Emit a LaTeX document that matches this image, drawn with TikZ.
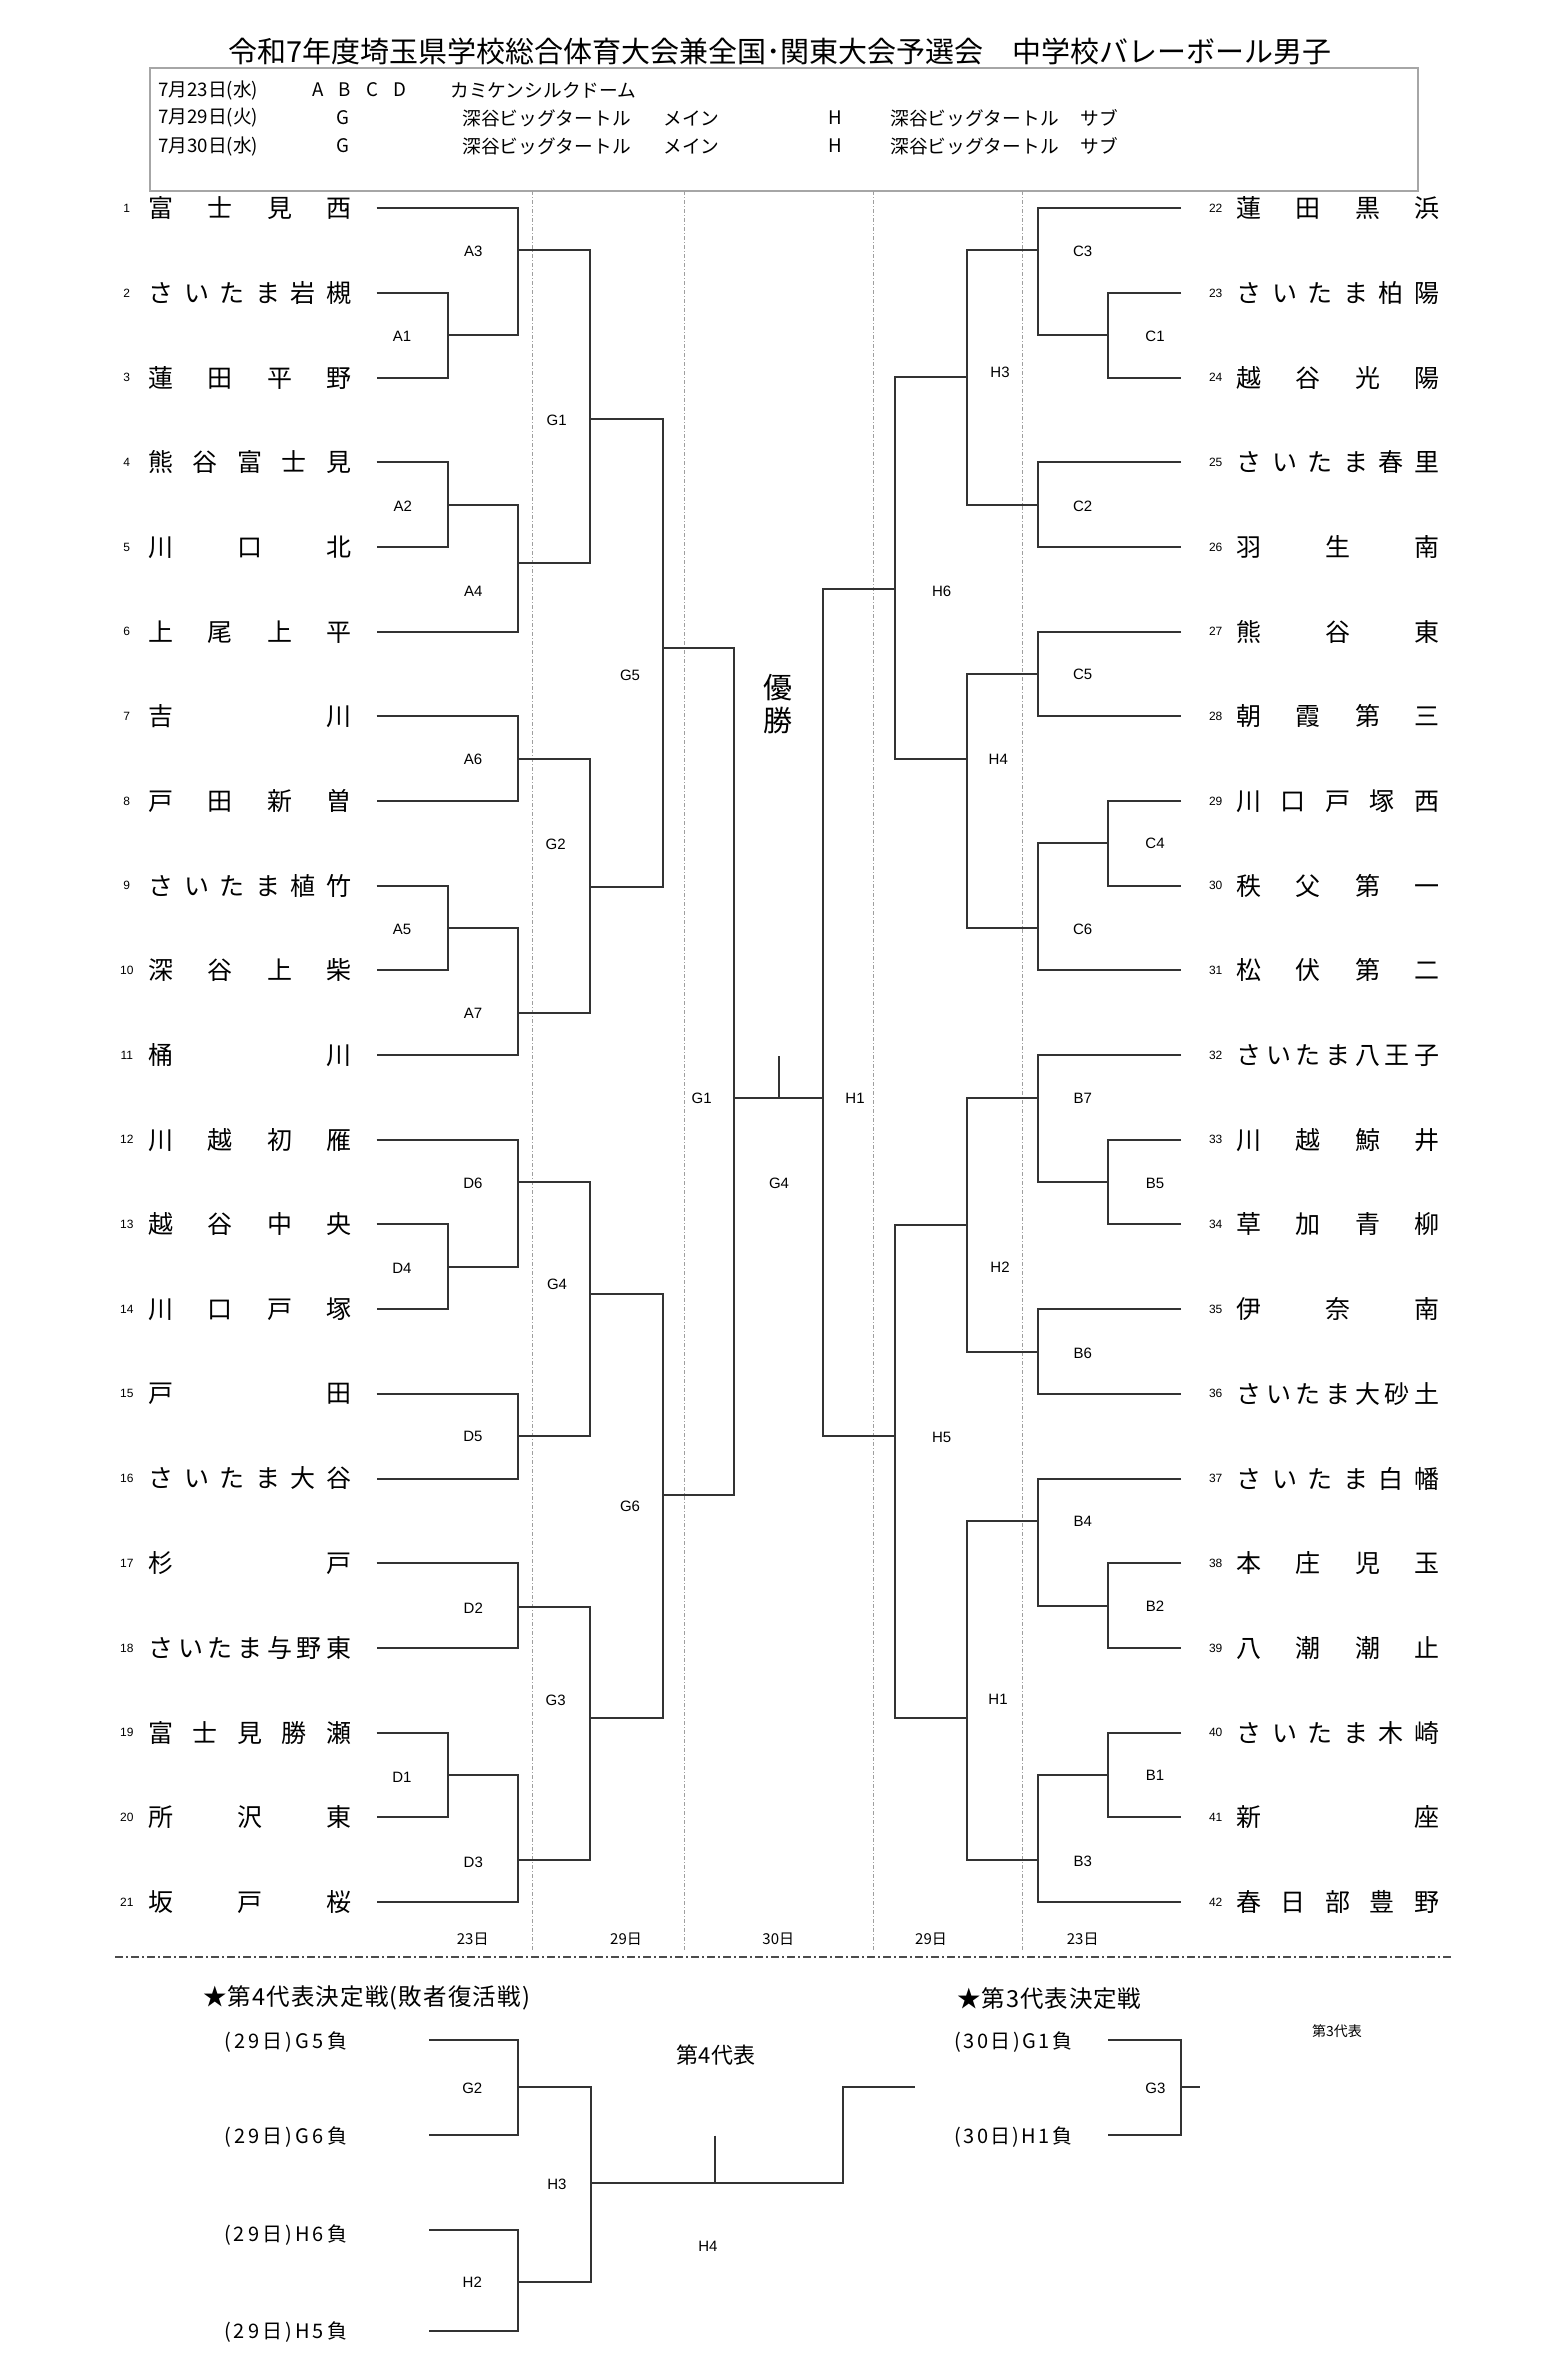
\documentclass[tikz,border=0pt]{standalone}
\usepackage{fontspec}
\setmainfont{Noto Sans CJK JP}
\newfontfamily\labfont{Liberation Sans}
\newdimen\pxu \pxu=0.5pt
\makeatletter
\def\spr@loop#1#2\@nil{#1\if\relax\detokenize{#2}\relax\else\hfill\spr@loop#2\@nil\fi}
\newcommand\spreadto[2]{\makebox[#1][s]{\expandafter\spr@loop#2\@nil}}
\makeatother
\begin{document}
\begin{tikzpicture}[x=0.5pt,y=-0.5pt,
  br/.style={draw=black!80, line width=1pt},
  team/.style={inner sep=0pt, anchor=west, font=\fontsize{12.5pt}{13pt}\selectfont},
  num/.style={inner sep=0pt, font=\labfont\fontsize{6pt}{7pt}\selectfont},
  mlab/.style={inner sep=0pt, font=\labfont\fontsize{7.5pt}{8pt}\selectfont},
  day/.style={inner sep=0pt, font=\fontsize{7.5pt}{8pt}\selectfont},
  hdr/.style={inner sep=0pt, anchor=west, font=\fontsize{9.35pt}{10pt}\selectfont},
  sub/.style={inner sep=0pt, anchor=west, font=\fontsize{10pt}{11pt}\selectfont},
  dayline/.style={draw=gray!75, line width=0.5pt, dash pattern=on 2pt off 1pt on 0.5pt off 1pt},
  sepline/.style={draw=black!70, line width=0.8pt, dash pattern=on 4pt off 1.5pt on 1pt off 1.5pt},
]
\fill[white] (0,0) rectangle (1567,2373);
\useasboundingbox (0,0) rectangle (1567,2373);

% title
\node[inner sep=0pt, font=\fontsize{14.5pt}{15pt}\selectfont] (title) at (780,51)
  {令和7年度埼玉県学校総合体育大会兼全国･関東大会予選会　中学校バレーボール男子};

% header box
\draw[draw=gray!70, line width=1pt] (150,67.7) rectangle (1418.3,191);
\node[hdr] (d1) at (158,90) {7月23日(水)};
\node[hdr,anchor=center] (d1a) at (318,90) {A};
\node[hdr,anchor=center] (d1b) at (345,90) {B};
\node[hdr,anchor=center] (d1c) at (372,90) {C};
\node[hdr,anchor=center] (d1d) at (400,90) {D};
\node[hdr] (d1v) at (450,90) {カミケンシルクドーム};
\foreach \r/\yy/\dd in {2/118/7月29日(火), 3/146/7月30日(水)}{
  \node[hdr] (d\r) at (158,\yy) {\dd};
  \node[hdr,anchor=center] (d\r g) at (343,\yy) {G};
  \node[hdr] (d\r v) at (462,\yy) {深谷ビッグタートル};
  \node[hdr] (d\r m) at (663,\yy) {メイン};
  \node[hdr,anchor=center] (d\r h) at (835,\yy) {H};
  \node[hdr] (d\r w) at (890,\yy) {深谷ビッグタートル};
  \node[hdr] (d\r s) at (1080,\yy) {サブ};
}

% day separator lines
\foreach \xx [count=\c] in {532.5,684,873,1022.3}{
  \coordinate (dt\c) at (\xx,191);
  \coordinate (db\c) at (\xx,1950);
  \draw[dayline] (dt\c) -- (db\c);
}
\coordinate (sepL) at (115,1956.7);
\coordinate (sepR) at (1454,1956.7);
\draw[sepline] (sepL) -- (sepR);

% teams left
\foreach \i/\nm in {1/富士見西,2/さいたま岩槻,3/蓮田平野,4/熊谷富士見,5/川口北,6/上尾上平,7/吉川,8/戸田新曽,9/さいたま植竹,10/深谷上柴,11/桶川,12/川越初雁,13/越谷中央,14/川口戸塚,15/戸田,16/さいたま大谷,17/杉戸,18/さいたま与野東,19/富士見勝瀬,20/所沢東,21/坂戸桜}{
  \pgfmathsetmacro\yy{208.3+(\i-1)*84.68}
  \node[num] (k\i) at (126.8,\yy) {\i};
  \node[team] (t\i) at (148,\yy) {\spreadto{203\pxu}{\nm}};
  \coordinate (e\i) at (376.7,\yy);
}
% teams right
\foreach \i/\nm in {22/蓮田黒浜,23/さいたま柏陽,24/越谷光陽,25/さいたま春里,26/羽生南,27/熊谷東,28/朝霞第三,29/川口戸塚西,30/秩父第一,31/松伏第二,32/さいたま八王子,33/川越鯨井,34/草加青柳,35/伊奈南,36/さいたま大砂土,37/さいたま白幡,38/本庄児玉,39/八潮潮止,40/さいたま木崎,41/新座,42/春日部豊野}{
  \pgfmathsetmacro\yy{208.3+(\i-22)*84.68}
  \node[num] (k\i) at (1215.7,\yy) {\i};
  \node[team] (t\i) at (1236,\yy) {\spreadto{203\pxu}{\nm}};
  \coordinate (e\i) at (1181,\yy);
}

% left match joints
\coordinate (A1) at (447.7,335.3);
\coordinate (A3) at (518.3,250.3);
\coordinate (A2) at (447.7,504.7);
\coordinate (A4) at (518.3,563.3);
\coordinate (LG1) at (590.3,419.3);
\coordinate (A6) at (518.3,758.8);
\coordinate (A5) at (447.7,928.0);
\coordinate (A7) at (518.3,1012.8);
\coordinate (LG2) at (590.3,886.7);
\coordinate (LG5) at (662.7,648.3);
\coordinate (D4) at (447.7,1266.8);
\coordinate (D6) at (518.3,1182.1);
\coordinate (D5) at (518.3,1436.2);
\coordinate (LG4) at (590.3,1294);
\coordinate (D2) at (518.3,1606.8);
\coordinate (D1) at (447.7,1775.3);
\coordinate (D3) at (518.3,1860.4);
\coordinate (LG3) at (590.3,1717.7);
\coordinate (LG6) at (662.7,1495.2);
\coordinate (SG1) at (734.3,1097.7);
% right match joints
\coordinate (C1) at (1108.3,335.3);
\coordinate (C3) at (1037.7,250.3);
\coordinate (C2) at (1037.7,504.7);
\coordinate (H3) at (967.3,377.3);
\coordinate (C5) at (1037.7,674.0);
\coordinate (C4) at (1108.3,843.4);
\coordinate (C6) at (1037.7,928.0);
\coordinate (H4) at (967.3,758.8);
\coordinate (H6) at (895,589.3);
\coordinate (B5) at (1108.3,1182.1);
\coordinate (B7) at (1037.7,1097.7);
\coordinate (B6) at (1037.7,1351.5);
\coordinate (H2) at (967.3,1225);
\coordinate (B2) at (1108.3,1605.6);
\coordinate (B4) at (1037.7,1521.2);
\coordinate (B1) at (1108.3,1775.3);
\coordinate (B3) at (1037.7,1859.6);
\coordinate (RH1) at (967.3,1717.5);
\coordinate (H5) at (895,1436.2);
\coordinate (SH1) at (823.3,1097.7);
\coordinate (win) at (779,1056);

% left bracket
\draw[br] (e2) -| (A1) |- (e3);
\draw[br] (e1) -| (A3) |- (A1);
\draw[br] (e4) -| (A2) |- (e5);
\draw[br] (A2) -| (A4) |- (e6);
\draw[br] (A3) -| (LG1) |- (A4);
\draw[br] (e7) -| (A6) |- (e8);
\draw[br] (e9) -| (A5) |- (e10);
\draw[br] (A5) -| (A7) |- (e11);
\draw[br] (A6) -| (LG2) |- (A7);
\draw[br] (LG1) -| (LG5) |- (LG2);
\draw[br] (e13) -| (D4) |- (e14);
\draw[br] (e12) -| (D6) |- (D4);
\draw[br] (e15) -| (D5) |- (e16);
\draw[br] (D6) -| (LG4) |- (D5);
\draw[br] (e17) -| (D2) |- (e18);
\draw[br] (e19) -| (D1) |- (e20);
\draw[br] (D1) -| (D3) |- (e21);
\draw[br] (D2) -| (LG3) |- (D3);
\draw[br] (LG4) -| (LG6) |- (LG3);
\draw[br] (LG5) -| (SG1) |- (LG6);
% right bracket
\draw[br] (e23) -| (C1) |- (e24);
\draw[br] (e22) -| (C3) |- (C1);
\draw[br] (e25) -| (C2) |- (e26);
\draw[br] (C3) -| (H3) |- (C2);
\draw[br] (e27) -| (C5) |- (e28);
\draw[br] (e29) -| (C4) |- (e30);
\draw[br] (C4) -| (C6) |- (e31);
\draw[br] (C5) -| (H4) |- (C6);
\draw[br] (H3) -| (H6) |- (H4);
\draw[br] (e33) -| (B5) |- (e34);
\draw[br] (e32) -| (B7) |- (B5);
\draw[br] (e35) -| (B6) |- (e36);
\draw[br] (B7) -| (H2) |- (B6);
\draw[br] (e38) -| (B2) |- (e39);
\draw[br] (e37) -| (B4) |- (B2);
\draw[br] (e40) -| (B1) |- (e41);
\draw[br] (B1) -| (B3) |- (e42);
\draw[br] (B4) -| (RH1) |- (B3);
\draw[br] (H2) -| (H5) |- (RH1);
\draw[br] (H6) -| (SH1) |- (H5);
% final
\draw[br] (SG1) -- (SH1);
\draw[br] (win) -- (win |- SG1);

% match labels
\foreach \t/\x/\y [count=\c] in {A3/473.3/251, A1/402/336, G1/556.7/420.7, A2/402.7/506, A4/473.3/591.7, G5/630/675, A6/473/759, G2/555.7/844.3, A5/402/929, A7/473/1013, D6/473/1183, D4/402/1268, G4/557/1284.7, D5/473/1436.8, G6/630/1506.7, D2/473.3/1608, G3/555.7/1700, D1/402/1777, D3/473.3/1862, G1/701.7/1098, G4/779/1183,
  C3/1082.7/251, C1/1155/336, H3/1000/372.3, C2/1082.7/506, H6/941.7/591, C5/1082.7/674, H4/998.3/759, C4/1155/843.6, C6/1082.7/929, B7/1082.7/1098.5, H1/855/1098, B5/1155/1183, H2/1000/1267, B6/1082.7/1353, H5/941.7/1437, B4/1082.7/1521, B2/1155/1606, H1/998/1699.5, B1/1155/1775.5, B3/1082.7/1861}{
  \node[mlab] (lab\c) at (\x,\y) {\t};
}

% champion
\node[inner sep=0pt, font=\fontsize{14.5pt}{15pt}\selectfont] (yu) at (778.3,688) {優};
\node[inner sep=0pt, font=\fontsize{14.5pt}{15pt}\selectfont] (sho) at (778.3,720.5) {勝};

% day labels
\foreach \t/\x [count=\c] in {23日/472.7, 29日/626, 30日/778.3, 29日/931, 23日/1082.7}{
  \node[day] (day\c) at (\x,1939.3) {\t};
}

% ---- bottom section ----
\node[inner sep=0pt, anchor=west, font=\fontsize{11.75pt}{12pt}\selectfont] (h4title) at (202.7,1998.3) {\spreadto{327\pxu}{★第4代表決定戦(敗者復活戦)}};
\node[inner sep=0pt, anchor=west, font=\fontsize{11.75pt}{12pt}\selectfont] (h3title) at (957,1998.3) {\spreadto{184\pxu}{★第3代表決定戦}};
\node[sub] (s1) at (223.7,2041.7) {\spreadto{123\pxu}{(29日)G5負}};
\node[sub] (s2) at (223.7,2136.7) {\spreadto{123\pxu}{(29日)G6負}};
\node[sub] (s3) at (223.7,2235) {\spreadto{123\pxu}{(29日)H6負}};
\node[sub] (s4) at (223.7,2331.7) {\spreadto{123\pxu}{(29日)H5負}};
\node[sub] (s5) at (954,2041.7) {\spreadto{118\pxu}{(30日)G1負}};
\node[sub] (s6) at (954,2136.7) {\spreadto{118\pxu}{(30日)H1負}};
\node[inner sep=0pt, font=\fontsize{11pt}{12pt}\selectfont] (dai4) at (716,2055) {第4代表};
\node[inner sep=0pt, font=\fontsize{7pt}{8pt}\selectfont] (dai3) at (1337,2030.7) {第3代表};

\coordinate (p1) at (429,2040);
\coordinate (p2) at (429,2135);
\coordinate (p3) at (429,2230);
\coordinate (p4) at (429,2331.3);
\coordinate (bG2) at (518.3,2087.3);
\coordinate (bH2) at (518.3,2282.3);
\coordinate (bH3) at (590.6,2183.3);
\coordinate (bH4b) at (843.3,2183.3);
\coordinate (bH4t) at (843.3,2087.3);
\coordinate (bH4e) at (915,2087.3);
\coordinate (bT) at (714.7,2135.7);
\coordinate (q1) at (1108.3,2040);
\coordinate (q2) at (1108.3,2135);
\coordinate (bG3) at (1181,2087.3);
\coordinate (bG3e) at (1200.2,2087.3);

\draw[br] (p1) -| (bG2) |- (p2);
\draw[br] (p3) -| (bH2) |- (p4);
\draw[br] (bG2) -| (bH3) |- (bH2);
\draw[br] (bH3) -- (bH4b) -- (bH4t) -- (bH4e);
\draw[br] (bT) -- (bT |- bH3);
\draw[br] (q1) -| (bG3) |- (q2);
\draw[br] (bG3) -- (bG3e);

\foreach \t/\x/\y [count=\c] in {G2/472.3/2088.3, H2/472.3/2282.3, H3/557/2184, H4/708/2246.7, G3/1155.4/2088}{
  \node[mlab] (blab\c) at (\x,\y) {\t};
}
\end{tikzpicture}
\end{document}
